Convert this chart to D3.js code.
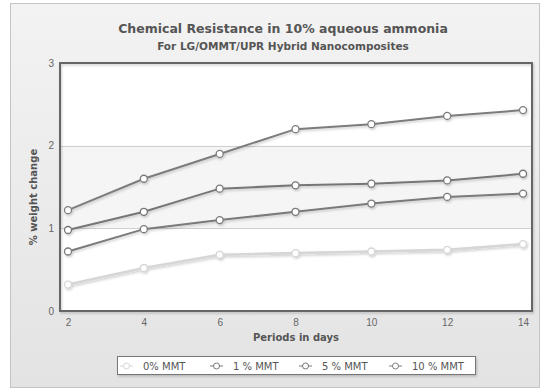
<!DOCTYPE html>
<html>
<head>
<meta charset="utf-8">
<script src="https://cdn.jsdelivr.net/npm/d3@7"></script>
<style>
  html, body { margin: 0; padding: 0; background: #ffffff; }
  svg { display: block; font-family: "DejaVu Sans", Verdana, sans-serif; }
</style>
</head>
<body>
<svg id="chart" width="541" height="390"></svg>
<script>
// Days of immersion
const days = [2, 4, 6, 8, 10, 12, 14];
// % weight change per clay loading
const mmt0  = [0.32, 0.52, 0.68, 0.70, 0.72, 0.74, 0.81];
const mmt1  = [0.72, 0.99, 1.10, 1.20, 1.30, 1.38, 1.42];
const mmt5  = [0.98, 1.20, 1.48, 1.52, 1.54, 1.58, 1.66];
const mmt10 = [1.22, 1.60, 1.90, 2.20, 2.26, 2.36, 2.43];
const seriesNames = ["0% MMT", "1 % MMT", "5 % MMT", "10 % MMT"];
const seriesColors = ["#d6d6d6", "#7a7a7a", "#767676", "#7c7c7c"];
const yTicks = [0, 1, 2, 3];

const series = [mmt0, mmt1, mmt5, mmt10].map((vals, i) => ({
  name: seriesNames[i], color: seriesColors[i],
  points: vals.map((v, j) => ({ x: days[j], y: v }))
}));

const svg = d3.select("#chart");
const defs = svg.append("defs");

// Frame background gradient
const grad = defs.append("linearGradient").attr("id", "bg")
  .attr("x1", 0).attr("y1", 0).attr("x2", 0).attr("y2", 1);
grad.append("stop").attr("offset", "0%").attr("stop-color", "#f3f3f3");
grad.append("stop").attr("offset", "100%").attr("stop-color", "#e3e3e3");

const shadow = defs.append("filter").attr("id", "shadow")
  .attr("x", "-5%").attr("y", "-5%").attr("width", "115%").attr("height", "140%");
shadow.append("feDropShadow").attr("dx", 1).attr("dy", 1.5).attr("stdDeviation", 1)
  .attr("flood-color", "#000").attr("flood-opacity", 0.2);

svg.append("rect").attr("x", 10.5).attr("y", 3.5).attr("width", 529).attr("height", 384)
  .attr("fill", "url(#bg)").attr("stroke", "#c4c4c4");

// Plot area
const L = 60, R = 532, T = 63, B = 311;
const x = d3.scaleLinear().domain([2, 14]).range([68, 523]);
const y = d3.scaleLinear().domain([0, 3]).range([B, T]);

svg.append("rect").attr("x", L).attr("y", T).attr("width", R - L).attr("height", B - T)
  .attr("fill", "#ffffff");
// alternate band between 1 and 2
svg.append("rect").attr("x", L).attr("y", y(2)).attr("width", R - L).attr("height", y(1) - y(2))
  .attr("fill", "#f5f5f5");

svg.append("g").selectAll("line").data([1, 2]).join("line")
  .attr("x1", L).attr("x2", R)
  .attr("y1", d => Math.round(y(d)) + 0.5).attr("y2", d => Math.round(y(d)) + 0.5)
  .attr("stroke", "#cfcfcf").attr("stroke-width", 1);

// Axes (labels only)
const yAxis = d3.axisLeft(y).tickValues(yTicks).tickFormat(d3.format("d")).tickSize(0).tickPadding(6);
const gy = svg.append("g").attr("transform", `translate(${L},0)`).call(yAxis);
gy.select(".domain").remove();
gy.selectAll("text").attr("fill", "#666").attr("font-size", 10);

const xAxis = d3.axisBottom(x).tickValues(days).tickSize(0).tickPadding(8);
const gx = svg.append("g").attr("transform", `translate(0,${B})`).call(xAxis);
gx.select(".domain").remove();
gx.selectAll("text").attr("fill", "#666").attr("font-size", 10);

// Lines
const line = d3.line().x(d => x(d.x)).y(d => y(d.y));
const sg = svg.append("g").selectAll("g").data(series).join("g")
  .attr("filter", "url(#shadow)");
sg.append("path")
  .attr("d", d => line(d.points))
  .attr("fill", "none")
  .attr("stroke", d => d.color)
  .attr("stroke-width", (d, i) => i === 0 ? 2.6 : 2);
sg.selectAll("circle").data(d => d.points.map(p => ({ ...p, color: d.color }))).join("circle")
  .attr("cx", d => x(d.x)).attr("cy", d => y(d.y)).attr("r", 3.5)
  .attr("fill", "#ffffff").attr("stroke", d => d.color).attr("stroke-width", 1.3);

// Plot border
svg.append("rect").attr("x", L).attr("y", T).attr("width", R - L).attr("height", B - T)
  .attr("fill", "none").attr("stroke", "#666").attr("stroke-width", 2)
  .attr("filter", "url(#shadow)");

// Titles
svg.append("text").attr("x", 283).attr("y", 33).attr("text-anchor", "middle")
  .attr("font-size", 12.5).attr("font-weight", "bold").attr("fill", "#555")
  .text("Chemical Resistance in 10% aqueous ammonia");
svg.append("text").attr("x", 283).attr("y", 50).attr("text-anchor", "middle")
  .attr("font-size", 10.5).attr("font-weight", "bold").attr("fill", "#555")
  .text("For LG/OMMT/UPR Hybrid Nanocomposites");

svg.append("text").attr("x", 296).attr("y", 341).attr("text-anchor", "middle")
  .attr("font-size", 10).attr("font-weight", "bold").attr("fill", "#555")
  .text("Periods in days");
svg.append("text").attr("transform", `translate(37,197) rotate(-90)`)
  .attr("text-anchor", "middle")
  .attr("font-size", 10).attr("font-weight", "bold").attr("fill", "#555")
  .text("% weight change");

// Legend
const lg = svg.append("g");
lg.append("rect").attr("x", 117.5).attr("y", 356.5).attr("width", 358).attr("height", 18)
  .attr("fill", "#fff").attr("stroke", "#777").attr("filter", "url(#shadow)");
const itemX = [120, 210, 299, 389];
const items = lg.selectAll("g").data(series).join("g")
  .attr("transform", (d, i) => `translate(${itemX[i]},366)`);
items.append("line").attr("x1", 0).attr("x2", 13).attr("y1", 0).attr("y2", 0)
  .attr("stroke", d => d.color).attr("stroke-width", 1);
items.append("circle").attr("cx", 6.5).attr("cy", 0).attr("r", 3)
  .attr("fill", "#fff").attr("stroke", d => d.color).attr("stroke-width", 1);
items.append("text").attr("x", 23).attr("y", 3.5)
  .attr("font-size", 10).attr("fill", "#555").text(d => d.name);
</script>
</body>
</html>
